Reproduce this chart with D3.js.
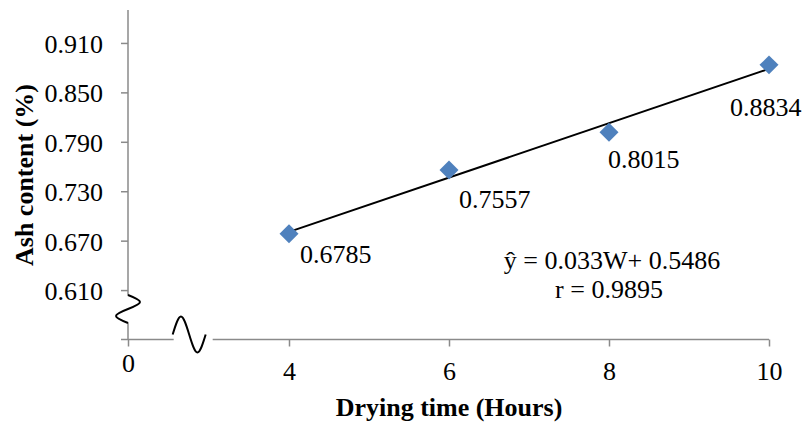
<!DOCTYPE html>
<html><head><meta charset="utf-8">
<script src="https://cdn.jsdelivr.net/npm/d3@7"></script>
<style>
body{margin:0;background:#fff}
text{font-family:"Liberation Serif","Times New Roman",serif;fill:#000}
</style></head><body>
<svg id="chart" width="806" height="428"></svg>
<script>
// data
var hours = [4, 6, 8, 10]
var ash = [0.6785, 0.7557, 0.8015, 0.8834]
var ashLabels = ["0.6785", "0.7557", "0.8015", "0.8834"]
var xTicks = [0, 4, 6, 8, 10]
var yTicks = [0.61, 0.67, 0.73, 0.79, 0.85, 0.91]
var slope = 0.033, intercept = 0.5486, rValue = "0.9895"

// label offsets from each point (px)
var labDx = [11, 10, -1, -39]
var labDy = [29, 38, 36, 51]

var svg = d3.select("#chart")
var axisCol = "#8a8a8a"
var fs = 26

// broken x axis: 0 then jump to 4
var x = d3.scaleLinear().domain([0, 4, 10]).range([128, 289, 769])
var y = d3.scaleLinear().domain([0.55, 0.95]).range([339.5, 10])

var xBreak = 1.52, yBreak = 0.587
var bx = x(xBreak), by = y(yBreak), y0 = y(0.55)

// y axis
var gy = svg.append("g").attr("transform", "translate(" + x(0) + ",0)")
  .call(d3.axisLeft(y).tickValues(yTicks).tickSize(7).tickPadding(18).tickFormat(d3.format(".3f")))
gy.select(".domain").remove()
gy.selectAll("line").attr("stroke", axisCol).attr("stroke-width", 1.5)
gy.selectAll("text").style("font-size", fs + "px").attr("dy", "0.36em").attr("font-family", null)

// x axis
var gx = svg.append("g").attr("transform", "translate(0," + y0 + ")")
  .call(d3.axisBottom(x).tickValues(xTicks).tickSize(7).tickPadding(15).tickFormat(d3.format("d")))
gx.select(".domain").remove()
gx.selectAll("line").attr("stroke", axisCol).attr("stroke-width", 1.5)
gx.selectAll("text").style("font-size", fs + "px").attr("font-family", null)
  .attr("y", function(d){ return d == 0 ? 14 : 22 })

// axis lines with gaps for the breaks
var segs = [
  [x(0), y(0.95), x(0), by - 13.5],
  [x(0), by + 13.5, x(0), y0],
  [x(0) - 7, y0, bx - 15.5, y0],
  [bx + 23.5, y0, x(10), y0]
]
svg.selectAll("line.ax").data(segs).enter().append("line").attr("class", "ax")
  .attr("x1", d => d[0]).attr("y1", d => d[1]).attr("x2", d => d[2]).attr("y2", d => d[3])
  .attr("stroke", axisCol).attr("stroke-width", 1.5)

// break squiggles
var wave = d3.line().curve(d3.curveNatural)
svg.append("path")
  .attr("d", wave([[0,-14],[12,-7],[0,0],[-12,7],[0,14]].map(p => [x(0) + p[0], by + p[1]])))
  .attr("fill", "none").attr("stroke", "#000").attr("stroke-width", 2)
svg.append("path")
  .attr("d", wave([[-16.5,0],[-8.25,-18],[0,0],[8.25,18],[16.5,0]].map(p => [bx + p[0], y0 - 5 + p[1]])))
  .attr("fill", "none").attr("stroke", "#000").attr("stroke-width", 2)

// trend line
var xa = hours[0], xb = hours[hours.length - 1]
svg.append("line")
  .attr("x1", x(xa)).attr("y1", y(slope * xa + intercept))
  .attr("x2", x(xb)).attr("y2", y(slope * xb + intercept))
  .attr("stroke", "#000").attr("stroke-width", 2)

// points
svg.selectAll("path.pt").data(hours).enter().append("path").attr("class", "pt")
  .attr("d", d3.symbol(d3.symbolSquare, 180))
  .attr("transform", (d, i) => "translate(" + x(d) + "," + y(ash[i]) + ") rotate(45)")
  .attr("fill", "#4f81bd")

// point labels
svg.selectAll("text.lab").data(hours).enter().append("text").attr("class", "lab")
  .attr("x", (d, i) => x(d) + labDx[i])
  .attr("y", (d, i) => y(ash[i]) + labDy[i])
  .style("font-size", fs + "px")
  .text((d, i) => ashLabels[i])

// equation
svg.append("text").attr("x", x(8) + 3).attr("y", 269).attr("text-anchor", "middle")
  .style("font-size", fs + "px").text("\u0177 = " + slope + "W+ " + intercept)
svg.append("text").attr("x", x(8)).attr("y", 298).attr("text-anchor", "middle")
  .style("font-size", fs + "px").text("r = " + rValue)

// axis titles
svg.append("text").attr("x", 449).attr("y", 416).attr("text-anchor", "middle")
  .style("font-size", fs + "px").style("font-weight", "bold").text("Drying time (Hours)")
svg.append("text").attr("transform", "translate(33,175) rotate(-90)").attr("text-anchor", "middle")
  .style("font-size", fs + "px").style("font-weight", "bold").text("Ash content (%)")
</script></body></html>
